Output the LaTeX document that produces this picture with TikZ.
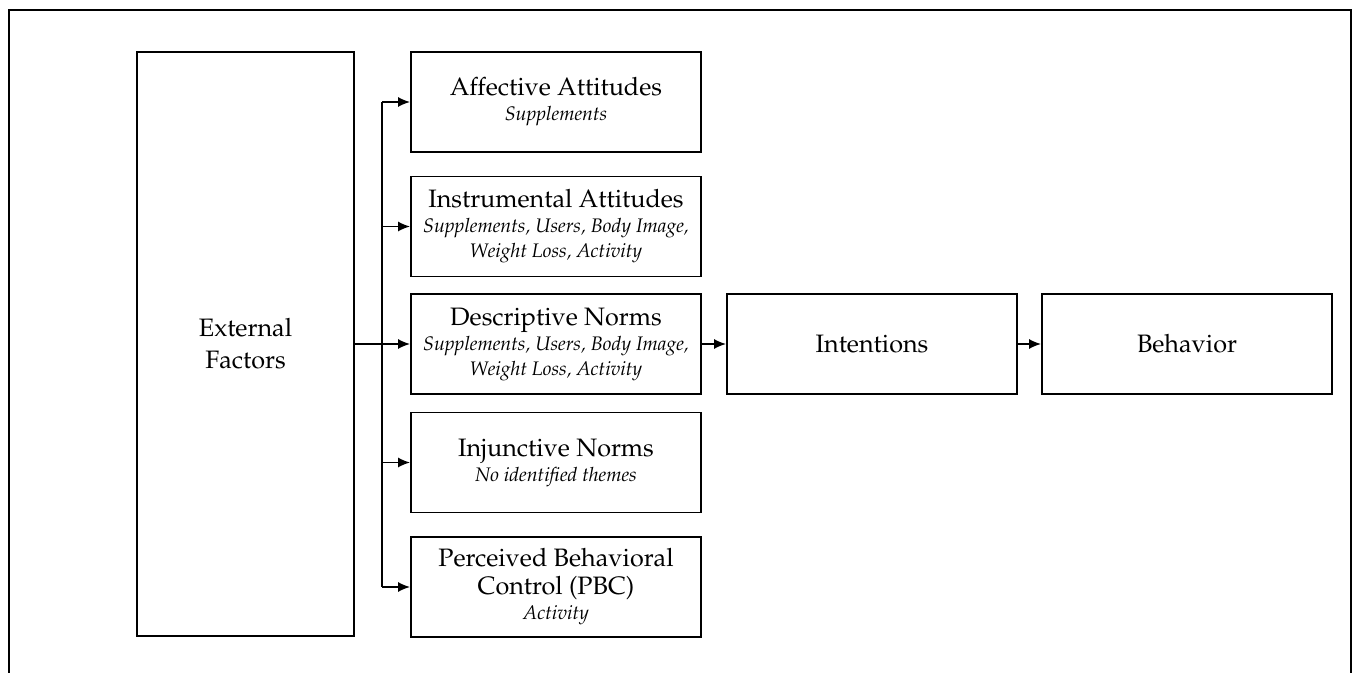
\documentclass[tikz,border=0pt]{standalone}
\usepackage[T1]{fontenc}
\usepackage{mathpazo}
\usetikzlibrary{arrows.meta}
\tikzset{
	factor/.style={draw, line width=0.9pt, minimum width=145pt, minimum height=50pt,
			align=center, inner sep=1pt, font=\fontsize{12.6}{14}\selectfont},
	link/.style={line width=0.8pt, -{Latex[length=6pt,width=5pt]}}
}
\newcommand{\themefont}{\fontsize{9.8}{12.4}\selectfont\itshape}

\begin{document}
\begin{tikzpicture}[x=0.5pt,y=-0.5pt]
            % Frame
            \useasboundingbox (0,0) rectangle (1355,673);
            \draw[line width=1.3pt] (9,673) -- (9,10) -- (1351,10) -- (1351,673);
            % External factors
            \node[factor, minimum width=108.5pt, minimum height=292pt, font=\fontsize{12.6}{16}\selectfont] (ext) at (245.5,344) {External\\Factors};
            % Predictors
            \node[factor] (aff) at (556,102) {Affective Attitudes\\[-1.5pt]\themefont Supplements};
            \node[factor] (ins) at (556,226.5) {Instrumental Attitudes\\[-1.5pt]\themefont Supplements, Users, Body Image,\\[-1.5pt]\themefont Weight Loss, Activity};
            \node[factor] (des) at (556,344) {Descriptive Norms\\[-1.5pt]\themefont Supplements, Users, Body Image,\\[-1.5pt]\themefont Weight Loss, Activity};
            \node[factor] (inj) at (556,462.5) {Injunctive Norms\\[-1.5pt]\themefont No identified themes};
            \node[factor] (pbc) at (556,587) {Perceived Behavioral\\Control (PBC)\\[-1.5pt]\themefont Activity};
            % Outcomes
            \node[factor] (int) at (872,344) {Intentions};
            \node[factor] (beh) at (1187,344) {Behavior};
            % Connectors
            \coordinate (bus) at (382,344);
            \draw[line width=0.8pt] (bus |- aff.west) -- (bus |- pbc.west);
            \draw[link] (ext.east) -- (des.west);
            \foreach \b in {aff,ins,inj,pbc}
                \draw[link] (bus |- \b.west) -- (\b.west);
            \draw[link] (des.east) -- (int.west);
            \draw[link] (int.east) -- (beh.west);
        \end{tikzpicture}
\end{document}
